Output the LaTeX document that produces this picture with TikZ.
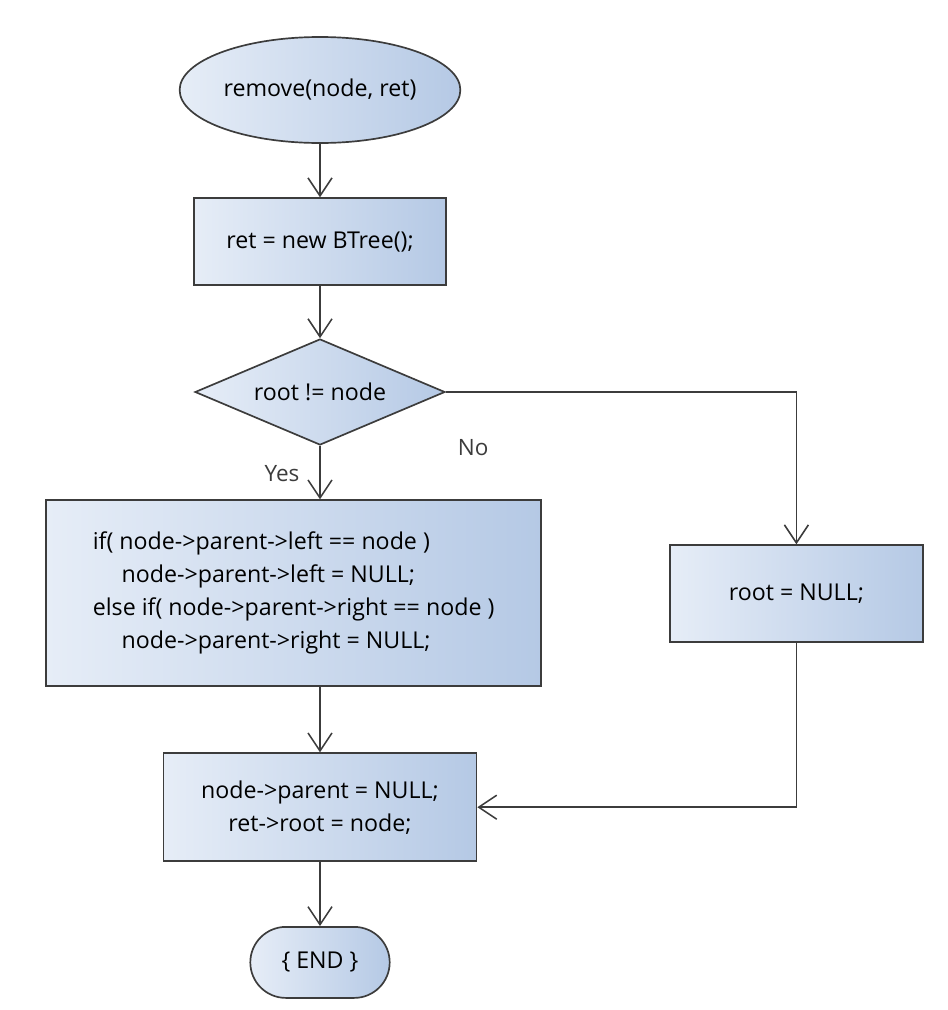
\documentclass[tikz,border=0pt]{standalone}
\usepackage{fontspec}
\setmainfont{Open Sans}
\usepackage{xcolor}
\definecolor{boxleft}{HTML}{E6EDF7}
\definecolor{boxright}{HTML}{B5C9E5}
\definecolor{edgegray}{HTML}{3C3C3C}
\usetikzlibrary{shapes.geometric,shapes.misc,arrows.meta}

\begin{document}
\begin{tikzpicture}[
    flowbox/.style={draw=edgegray, line width=1.2pt, left color=boxleft, right color=boxright, align=center, font=\fontsize{16.5}{23.5}\selectfont, inner sep=2pt},
    startbox/.style={flowbox, ellipse, minimum width=6.3cm, minimum height=2.65cm},
    procbox/.style={flowbox, rectangle, minimum width=6.3cm, minimum height=2.175cm},
    decbox/.style={flowbox, diamond, aspect=2.36, inner sep=0pt, minimum width=6.25cm, minimum height=2.65cm},
    endbox/.style={flowbox, rounded rectangle, minimum width=3.625cm, minimum height=1.775cm},
    lbl/.style={font=\fontsize{16}{18}\selectfont, text=edgegray},
    arr/.style={-{Straight Barb[length=4.5mm, width=6mm]}, line width=1.1pt, edgegray}
]
\useasboundingbox (0,0) rectangle (23.7,-25.25);

% Main column
\node[startbox] (start) at (8.0, -2.25) {remove(node, ret)};
\node[procbox] (newtree) at (8.0, -6.04) {ret = new BTree();};
\node[decbox] (isroot) at (8.0, -9.8) {root != node};
\node[procbox, minimum width=12.375cm, minimum height=4.65cm, align=left] (unlink) at (7.34, -14.83)
    {if( node->parent->left == node )\\
     \hspace*{0.72cm}node->parent->left = NULL;\\
     else if( node->parent->right == node )\\
     \hspace*{0.72cm}node->parent->right = NULL;};
\node[procbox, minimum width=7.825cm, minimum height=2.7cm] (detach) at (8.0, -20.18) {node->parent = NULL;\\ret->root = node;};
\node[endbox] (finish) at (8.0, -24.06) {\{ END \}};

% Right branch
\node[procbox, minimum width=6.325cm, minimum height=2.425cm] (clearroot) at (19.91, -14.84) {root = NULL;};

% Branch labels
\node[lbl] (yes) at (7.05, -11.83) {Yes};
\node[lbl] (no) at (11.83, -11.18) {No};

% Connectors
\draw[arr] (start) -- (newtree);
\draw[arr] (newtree) -- (isroot);
\draw[arr] (isroot.south) -- (isroot.south |- unlink.north);
\draw[arr] (detach.north |- unlink.south) -- (detach.north);
\draw[arr] (detach) -- (finish);
\draw[arr] (isroot.east) -| (clearroot.north);
\draw[arr] (clearroot.south) |- (detach.east);

\end{tikzpicture}
\end{document}
